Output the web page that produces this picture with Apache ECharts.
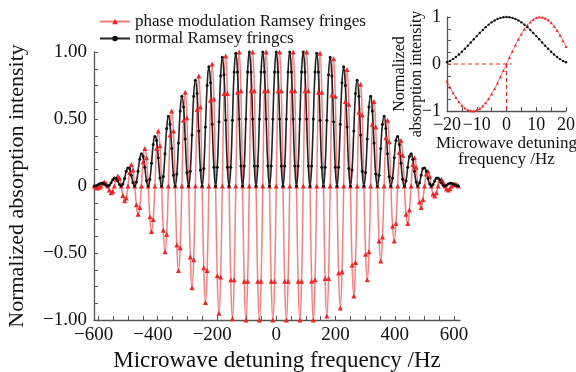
<!DOCTYPE html>
<html>
<head>
<meta charset="utf-8">
<script src="https://cdn.jsdelivr.net/npm/echarts@6/dist/echarts.min.js"></script>
<style>
  html, body { margin: 0; background: #fff; }
  #chart { width: 576px; height: 372px; }
</style>
</head>
<body>
<div id="chart"></div>
<script>
// main plot: detuning samples start at -614.25 Hz, one sample every 5.6875 Hz (217 samples)
const fringeStart = -614.25;
const fringeStep = 5.6875;

const normalFringes = [
  0, .002, .008, .015, .02, .02, .014, .005,
  0, .006, .024, .046, .06, .057, .038, .012,
  0, .015, .056, .11, .135, .13, .08, .025,
  0, .03, .11, .20, .24, .22, .14, .04,
  0, .05, .17, .31, .37, .34, .21, .06,
  0, .07, .24, .43, .52, .46, .28, .08,
  0, .09, .32, .56, .67, .59, .35, .10,
  0, .11, .38, .67, .79, .69, .41, .12,
  0, .13, .44, .75, .89, .77, .46, .14,
  0, .14, .48, .82, .96, .83, .49, .14,
  0, .14, .49, .85, .99, .85, .50, .15,
  0, .15, .50, .85, 1.00, .85, .50, .15,
  0, .15, .50, .85, 1.00, .85, .50, .15,
  0, .15, .50, .85,
  1.00, .85, .50, .15, 0, .15, .50, .85,
  1.00, .85, .50, .15, 0, .15, .50, .85,
  1.00, .85, .50, .15, 0, .15, .50, .85,
  .99, .85, .49, .14, 0, .14, .49, .83,
  .96, .82, .48, .14, 0, .14, .46, .77,
  .89, .75, .44, .13, 0, .12, .41, .69,
  .79, .67, .38, .11, 0, .10, .35, .59,
  .67, .56, .32, .09, 0, .08, .28, .46,
  .52, .43, .24, .07, 0, .06, .21, .34,
  .37, .31, .17, .05, 0, .04, .14, .22,
  .24, .20, .11, .03, 0, .025, .08, .13,
  .135, .11, .056, .015, 0, .012, .038, .057,
  .06, .046, .024, .006, 0, .005, .014, .02,
  .02, .015, .008, .002, 0
];

const phaseFringes = [
  0, -.01, -.015, -.01, 0, .02, .03, .02,
  0, -.03, -.05, -.04, 0, .05, .075, .06,
  0, -.07, -.11, -.09, 0, .10, .16, .12,
  0, -.14, -.21, -.16, 0, .18, .28, .21,
  0, -.23, -.34, -.25, 0, .28, .41, .30,
  0, -.33, -.49, -.36, 0, .38, .56, .41,
  0, -.44, -.63, -.46, 0, .49, .70, .51,
  0, -.53, -.76, -.55, 0, .57, .82, .59,
  0, -.61, -.87, -.63, 0, .64, .91, .65,
  0, -.67, -.95, -.68, 0, .69, .97, .69,
  0, -.70, -.99, -.70, 0, .70, 1.00, .71,
  0, -.71, -1.00, -.71, 0, .71, 1.00, .71,
  0, -.71, -1.00, -.71, 0, .71, 1.00, .71,
  0, -.71, -1.00, -.71,
  0, .71, 1.00, .71, 0, -.71, -1.00, -.71,
  0, .71, 1.00, .71, 0, -.71, -1.00, -.71,
  0, .71, 1.00, .71, 0, -.71, -1.00, -.70,
  0, .70, .99, .70, 0, -.69, -.97, -.69,
  0, .68, .95, .67, 0, -.65, -.91, -.64,
  0, .63, .87, .61, 0, -.59, -.82, -.57,
  0, .55, .76, .53, 0, -.51, -.70, -.49,
  0, .46, .63, .44, 0, -.41, -.56, -.38,
  0, .36, .49, .33, 0, -.30, -.41, -.28,
  0, .25, .34, .23, 0, -.21, -.28, -.18,
  0, .16, .21, .14, 0, -.12, -.16, -.10,
  0, .09, .11, .07, 0, -.06, -.075, -.05,
  0, .04, .05, .03, 0, -.02, -.03, -.02,
  0, .01, .015, .01, 0
];

// inset: -20 .. 20 Hz, 1 Hz apart
const insetFreqs = [-20, -19, -18, -17, -16, -15, -14, -13, -12, -11, -10, -9, -8, -7, -6, -5, -4, -3, -2, -1,
  0, 1, 2, 3, 4, 5, 6, 7, 8, 9, 10, 11, 12, 13, 14, 15, 16, 17, 18, 19, 20];
const insetNormal = [.036, .066, .104, .149, .202, .260, .323, .389, .457, .526, .594, .661, .725, .784, .838, .886, .926, .958, .981, .995,
  1.000, .995, .981, .958, .926, .886, .838, .784, .725, .661, .594, .526, .457, .389, .323, .260, .202, .149, .104, .066, .036];
const insetPhase = [-.371, -.495, -.610, -.713, -.803, -.877, -.935, -.975, -.996, -.999, -.982, -.947, -.893, -.823, -.737, -.637, -.525, -.403, -.273, -.138,
  0, .138, .273, .403, .525, .637, .737, .823, .893, .947, .982, .999, .996, .975, .935, .877, .803, .713, .610, .495, .371];
const guideHorizontal = [[-20, 0], [1.8, 0]];
const guideVertical = [[0, 0], [0, -1]];

const mainXLabels = [-600, -400, -200, 0, 200, 400, 600];
const mainXTicks = [-600, -550, -500, -450, -400, -350, -300, -250, -200, -150, -100, -50, 0,
  50, 100, 150, 200, 250, 300, 350, 400, 450, 500, 550, 600];
const mainYLabels = [-1, -0.5, 0, 0.5, 1];
const mainYTicks = [-1, -0.875, -0.75, -0.625, -0.5, -0.375, -0.25, -0.125, 0,
  0.125, 0.25, 0.375, 0.5, 0.625, 0.75, 0.875, 1];
const insetXLabels = [-20, -10, 0, 10, 20];
const insetXTicks = [-20, -15, -10, -5, 0, 5, 10, 15, 20];
const insetYLabels = [-1, 0, 1];
const insetYTicks = [-1, -0.75, -0.5, -0.25, 0, 0.25, 0.5, 0.75, 1];

const seriesNames = ['phase modulation Ramsey fringes', 'normal Ramsey fringcs'];

const serif = 'Liberation Serif';
const ink = '#111';
const axisGray = '#555';
const redMark = '#f02626';

const toPairs = vals => vals.map((v, i) => [fringeStart + i * fringeStep, v]);
const insetPairs = vals => vals.map((v, i) => [insetFreqs[i], v]);
// negative labels: digits sit over the tick, the minus sticks out to the left
const signed = v => (v < 0 ? '\u2212' + (-v) + '\u2002' : String(v));
const signedPlain = v => (v < 0 ? '\u2212' + (-v) : String(v));
const signed2 = v => (v === 0 ? '0' : (v < 0 ? '\u2212' : '') + Math.abs(v).toFixed(2));

const makeAxis = (extra, labels, ticks, fmt, fontSize, margin) => Object.assign({
  type: 'value',
  axisLine: { show: true, onZero: false, lineStyle: { color: axisGray, width: 1.3 } },
  axisTick: { show: true, inside: true, length: 4, customValues: ticks, lineStyle: { color: axisGray, width: 1 } },
  axisLabel: { customValues: labels, formatter: fmt, margin: margin, color: ink, fontFamily: serif, fontSize: fontSize },
  splitLine: { show: false }
}, extra);

const chart = echarts.init(document.getElementById('chart'));

chart.setOption({
  animation: false,
  grid: [
    { left: 94, right: 116, top: 52, bottom: 52, outerBoundsMode: 'none' },
    { left: 447, right: 10, top: 17, bottom: 261, outerBoundsMode: 'none' }
  ],
  legend: {
    left: 99, top: 13, orient: 'vertical',
    itemWidth: 30, itemHeight: 7, itemGap: 0, padding: 0,
    textStyle: { fontFamily: serif, fontSize: 17, color: ink, lineHeight: 14 },
    data: seriesNames
  },
  xAxis: [
    makeAxis({
      gridIndex: 0, min: -615, max: 620,
      name: 'Microwave detuning frequency /Hz', nameLocation: 'middle', nameGap: 27,
      nameTextStyle: { fontFamily: serif, fontSize: 23, color: ink }
    }, mainXLabels, mainXTicks, signed, 19, 6),
    makeAxis({
      gridIndex: 1, min: -20, max: 20,
      name: 'Microwave detuning\nfrequency /Hz', nameLocation: 'middle', nameGap: 22,
      nameTextStyle: { fontFamily: serif, fontSize: 17, color: ink, lineHeight: 16, verticalAlign: 'top' }
    }, insetXLabels, insetXTicks, signedPlain, 18, 5)
  ],
  yAxis: [
    makeAxis({
      gridIndex: 0, min: -1, max: 1,
      name: 'Normalized absorption intensity', nameLocation: 'middle', nameGap: 66,
      nameTextStyle: { fontFamily: serif, fontSize: 22, color: ink }
    }, mainYLabels, mainYTicks, signed2, 19, 7),
    makeAxis({
      gridIndex: 1, min: -1, max: 1,
      name: 'Normalized\nabsorption intensity', nameLocation: 'middle', nameGap: 22,
      nameMoveOverlap: false,
      nameTextStyle: { fontFamily: serif, fontSize: 16, color: ink, lineHeight: 17, padding: [0, 20, 0, 0] }
    }, insetYLabels, insetYTicks, signedPlain, 18, 6)
  ],
  series: [
    {
      name: seriesNames[0], type: 'line', xAxisIndex: 0, yAxisIndex: 0,
      data: toPairs(phaseFringes), smooth: true,
      symbol: 'triangle', symbolSize: 5,
      itemStyle: { color: redMark },
      lineStyle: { color: 'rgba(240,60,60,0.65)', width: 1.5 }
    },
    {
      name: seriesNames[1], type: 'line', xAxisIndex: 0, yAxisIndex: 0,
      data: toPairs(normalFringes), smooth: true,
      symbol: 'circle', symbolSize: 3,
      itemStyle: { color: ink },
      lineStyle: { color: '#222', width: 1.6 }
    },
    {
      type: 'line', xAxisIndex: 1, yAxisIndex: 1, data: guideHorizontal,
      symbol: 'none', lineStyle: { color: redMark, width: 1, type: [4, 3] }
    },
    {
      type: 'line', xAxisIndex: 1, yAxisIndex: 1, data: guideVertical,
      symbol: 'none', lineStyle: { color: redMark, width: 1, type: [4, 3] }
    },
    {
      type: 'line', xAxisIndex: 1, yAxisIndex: 1, data: insetPairs(insetPhase), smooth: true,
      symbol: 'triangle', symbolSize: 3,
      itemStyle: { color: redMark },
      lineStyle: { color: 'rgba(240,60,60,0.7)', width: 1 }
    },
    {
      type: 'line', xAxisIndex: 1, yAxisIndex: 1, data: insetPairs(insetNormal), smooth: true,
      symbol: 'circle', symbolSize: 2.4,
      itemStyle: { color: ink },
      lineStyle: { color: '#333', width: 1 }
    }
  ]
});
</script>
</body>
</html>
